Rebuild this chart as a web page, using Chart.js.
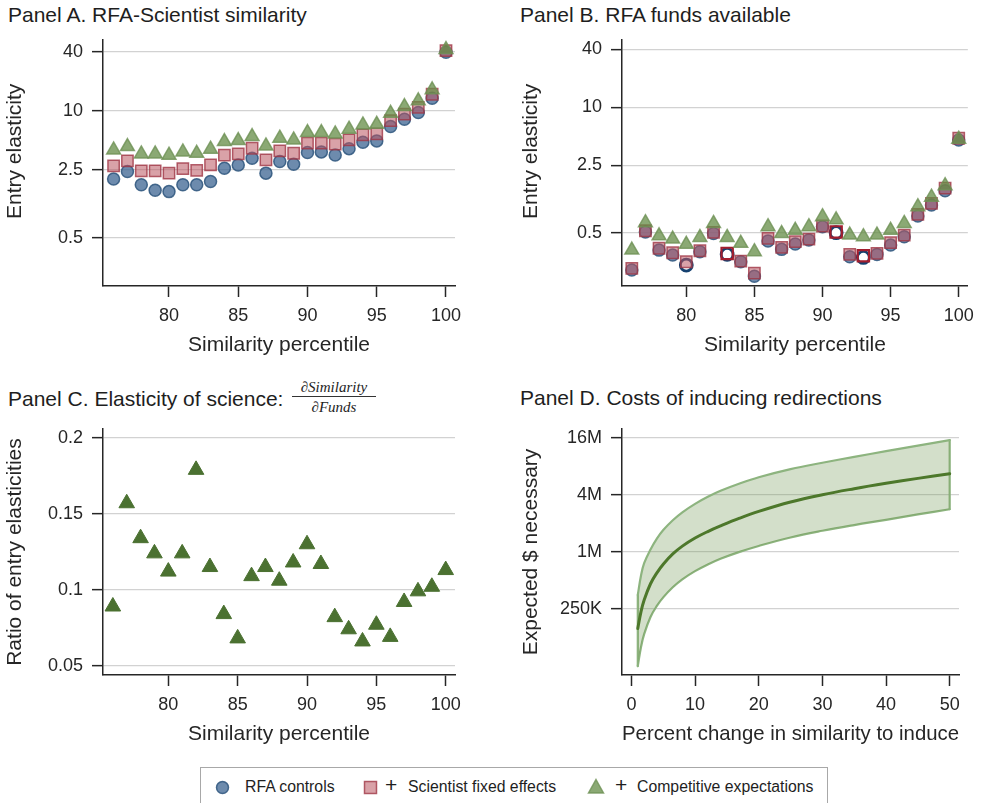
<!DOCTYPE html>
<html>
<head>
<meta charset="utf-8">
<script src="https://cdn.jsdelivr.net/npm/chart.js@4.4.1/dist/chart.umd.min.js"></script>
<style>
  body { margin: 0; width: 982px; height: 803px; overflow: hidden; position: relative; background: #fff;
         font-family: 'Liberation Sans', Arial, sans-serif; color: #1e1e1e; }
  canvas, .title, .leg, .frac { position: absolute; }
  .title { font-size: 21px; line-height: 21px; white-space: nowrap; }
  .frac { font-family: 'Liberation Serif', 'Times New Roman', serif; font-style: italic; font-size: 15px;
          text-align: center; width: 84px; }
  .frac div { line-height: 14px; }
  #legend { position: absolute; left: 200px; top: 767px; width: 626px; height: 44px; border: 1px solid #a8a8a8; }
  .leg { font-size: 15.8px; line-height: 18px; top: 778px; white-space: nowrap; }
  .plus { font-size: 21px; font-weight: 300; top: 776px; }
</style>
</head>
<body>
<div class="title" style="left:8px;top:4px">Panel A. RFA-Scientist similarity</div>
<div class="title" style="left:520px;top:4px">Panel B. RFA funds available</div>
<div class="title" style="left:8px;top:388px">Panel C. Elasticity of science:</div>
<div class="frac" style="left:292px;top:380px">
  <div style="border-bottom:1px solid #333;padding-bottom:2px">∂Similarity</div>
  <div style="padding-top:3px">∂Funds</div>
</div>
<div class="title" style="left:520px;top:387px">Panel D. Costs of inducing redirections</div>

<canvas id="panelA" width="470" height="360" style="left:0;top:0"></canvas>
<canvas id="panelB" width="466" height="360" style="left:516px;top:0"></canvas>
<canvas id="panelC" width="470" height="370" style="left:0;top:380px"></canvas>
<canvas id="panelD" width="466" height="370" style="left:516px;top:380px"></canvas>

<div id="legend"></div>
<svg class="leg" style="left:215px;top:780px" width="15" height="15"><circle cx="7.5" cy="7.5" r="6" fill="rgba(60,100,145,0.75)" stroke="rgba(45,85,125,0.85)" stroke-width="1.5"/></svg>
<div class="leg" style="left:245px">RFA controls</div>
<svg class="leg" style="left:363px;top:780px" width="15" height="15"><rect x="1.5" y="1.5" width="12" height="12" fill="rgba(185,85,97,0.55)" stroke="rgba(160,55,70,0.8)" stroke-width="1.5"/></svg>
<div class="leg plus" style="left:385px">+</div>
<div class="leg" style="left:408px">Scientist fixed effects</div>
<svg class="leg" style="left:587px;top:778px" width="18" height="17"><polygon points="9,1.5 16.5,15 1.5,15" fill="rgba(100,140,70,0.75)" stroke="rgba(110,145,85,0.8)" stroke-width="1.5"/></svg>
<div class="leg plus" style="left:615px">+</div>
<div class="leg" style="left:637px">Competitive expectations</div>

<script>
// Similarity percentile (x of panels A, B, C)
const pct = [76, 77, 78, 79, 80, 81, 82, 83, 84, 85, 86, 87, 88, 89, 90, 91, 92, 93, 94, 95, 96, 97, 98, 99, 100];

// Panel A: entry elasticity by RFA-scientist similarity
const circA = [2.0, 2.39, 1.75, 1.54, 1.49, 1.75, 1.75, 1.89, 2.58, 2.79, 3.27, 2.30, 3.02, 2.84, 3.73, 3.79, 3.53, 4.09, 4.75, 4.91, 6.87, 8.16, 9.55, 13.4, 39.5];
const sqA   = [2.73, 3.07, 2.43, 2.43, 2.30, 2.56, 2.45, 2.79, 3.51, 3.61, 4.13, 3.14, 3.88, 3.67, 4.65, 4.65, 4.54, 5.02, 5.65, 5.78, 7.91, 9.19, 10.8, 14.7, 41];
const triA  = [3.97, 4.30, 3.61, 3.61, 3.51, 3.79, 3.67, 4.04, 4.83, 4.94, 5.43, 4.36, 5.23, 5.02, 5.97, 5.97, 5.78, 6.46, 7.15, 7.25, 9.4, 11.0, 12.6, 16.3, 42];

// Panel B: entry elasticity w.r.t. funds available
const circB = [0.205, 0.51, 0.33, 0.293, 0.231, 0.318, 0.49, 0.298, 0.25, 0.177, 0.41, 0.336, 0.382, 0.42, 0.577, 0.50, 0.282, 0.277, 0.298, 0.372, 0.454, 0.745, 0.97, 1.36, 4.59];
const sqB   = [0.213, 0.524, 0.345, 0.31, 0.25, 0.325, 0.505, 0.305, 0.254, 0.19, 0.437, 0.352, 0.404, 0.43, 0.587, 0.51, 0.298, 0.288, 0.305, 0.394, 0.473, 0.776, 1.01, 1.45, 4.78];
const triB  = [0.33, 0.635, 0.465, 0.43, 0.379, 0.447, 0.625, 0.447, 0.388, 0.318, 0.577, 0.49, 0.53, 0.577, 0.733, 0.68, 0.473, 0.455, 0.473, 0.53, 0.625, 0.93, 1.17, 1.54, 4.67];
const hollowCircB = [80, 83, 91, 93];   // drawn as open markers
const hollowSqB = [83, 91, 93];

// Panel C: ratio of entry elasticities
const triC = [0.089, 0.157, 0.134, 0.124, 0.112, 0.124, 0.179, 0.115, 0.084, 0.068, 0.109, 0.115, 0.106, 0.118, 0.130, 0.117, 0.082, 0.074, 0.066, 0.077, 0.069, 0.092, 0.099, 0.102, 0.113];

// Panel D: expected $ necessary (millions) by percent change in similarity
const changePct = [1, 1.5, 2, 3, 4, 5, 6.5, 8, 10, 12, 14, 17, 20, 25, 30, 35, 40, 45, 50];
const costMid   = [0.155, 0.232, 0.31, 0.46, 0.60, 0.74, 0.95, 1.15, 1.40, 1.64, 1.88, 2.27, 2.68, 3.37, 4.02, 4.65, 5.3, 5.98, 6.7];
const costHigh  = [0.35, 0.56, 0.76, 1.06, 1.38, 1.70, 2.16, 2.62, 3.22, 3.82, 4.42, 5.28, 6.15, 7.5, 8.75, 10.1, 11.6, 13.3, 15.2];
const costLow   = [0.062, 0.098, 0.135, 0.205, 0.268, 0.33, 0.422, 0.512, 0.625, 0.735, 0.845, 1.0, 1.155, 1.42, 1.67, 1.92, 2.18, 2.49, 2.82];

// Tick positions and labels
const pctTicks = [80, 85, 90, 95, 100];
const elastTicks = [0.5, 2.5, 10, 40];
const elastLabels = ['0.5', '2.5', '10', '40'];
const ratioTicks = [0.05, 0.1, 0.15, 0.2];
const ratioLabels = ['0.05', '0.1', '0.15', '0.2'];
const changeTicks = [0, 10, 20, 30, 40, 50];
const costTicks = [250000, 1000000, 4000000, 16000000];
const costLabels = ['250K', '1M', '4M', '16M'];

const INK = '#262626';
const GRID = '#d2d2d2';
const CIRC_FILL = 'rgba(60,100,145,0.75)', CIRC_LINE = 'rgba(45,85,125,0.85)';
const SQ_FILL = 'rgba(185,85,97,0.55)', SQ_LINE = 'rgba(160,55,70,0.8)';
const TRI_FILL = 'rgba(100,140,70,0.75)', TRI_LINE = 'rgba(110,145,85,0.8)';

Chart.defaults.font.family = "'Liberation Sans', Arial, sans-serif";

const xy = (xs, ys, k = 1) => xs.map((x, i) => ({ x, y: ys[i] * k }));

function xAxis(min, max, ticks, title) {
  return {
    type: 'linear', min, max,
    afterBuildTicks: s => { s.ticks = ticks.map(v => ({ value: v })); },
    afterFit: s => { s.height = 74; },
    ticks: { font: { size: 18 }, color: INK, padding: 8, maxRotation: 0, autoSkip: false },
    grid: { drawOnChartArea: false, tickLength: 11, tickColor: INK, tickWidth: 1.5 },
    border: { color: INK, width: 1.5 },
    title: { display: true, text: title, font: { size: 21 }, color: INK, padding: { top: 0, bottom: 2.4 } },
  };
}

function yAxis(type, min, max, ticks, labels, title, width) {
  return {
    type, min, max,
    afterBuildTicks: s => { s.ticks = ticks.map(v => ({ value: v })); },
    afterFit: s => { s.width = width; },
    ticks: { font: { size: 18 }, color: INK, padding: 9, autoSkip: false, callback: (v, i) => labels[i] },
    grid: { color: GRID, lineWidth: 1.3, tickLength: 11, tickColor: INK, tickWidth: 1.5 },
    border: { color: INK, width: 1.5 },
    title: { display: true, text: title, font: { size: 21 }, color: INK, padding: { top: 2.4, bottom: 0 } },
  };
}

function panel(id, datasets, scales, padding) {
  return new Chart(document.getElementById(id), {
    type: 'scatter',
    data: { datasets },
    options: {
      responsive: false, maintainAspectRatio: false, animation: false, events: [],
      layout: { padding },
      plugins: { legend: { display: false }, tooltip: { enabled: false } },
      scales,
    },
  });
}

const circles = (ys, hollow = []) => ({
  data: xy(pct, ys), pointStyle: 'circle', pointRadius: 6, order: 3,
  pointBackgroundColor: c => hollow.includes(pct[c.dataIndex]) ? '#ffffff' : CIRC_FILL,
  pointBorderColor: c => hollow.includes(pct[c.dataIndex]) ? '#15416f' : CIRC_LINE,
  pointBorderWidth: c => hollow.includes(pct[c.dataIndex]) ? 2.8 : 1.5,
});
const squares = (ys, hollow = []) => ({
  data: xy(pct, ys), pointStyle: 'rect', pointRadius: 8, order: 2,
  pointBackgroundColor: c => hollow.includes(pct[c.dataIndex]) ? 'rgba(0,0,0,0)' : SQ_FILL,
  pointBorderColor: c => hollow.includes(pct[c.dataIndex]) ? '#a21d2e' : SQ_LINE,
  pointBorderWidth: c => hollow.includes(pct[c.dataIndex]) ? 2.2 : 1.5,
});
const triangles = ys => ({
  data: xy(pct, ys), pointStyle: 'triangle', pointRadius: 8, order: 1,
  pointBackgroundColor: TRI_FILL, pointBorderColor: TRI_LINE, pointBorderWidth: 1.5,
});

// the y titles of the top panels sit a little above the plot centre
const ELAST_TITLE = '\u0020\u0020\u0020\u0020Entry elasticity';

// Panel A
panel('panelA', [circles(circA), squares(sqA), triangles(triA)], {
  x: xAxis(75.235, 100.65, pctTicks, 'Similarity percentile'),
  y: yAxis('logarithmic', 0.162, 52.6, elastTicks, elastLabels, ELAST_TITLE, 103),
}, { top: 40, right: 15, left: 0, bottom: 0 });

// Panel B
panel('panelB', [circles(circB, hollowCircB), squares(sqB, hollowSqB), triangles(triB)], {
  x: xAxis(75.28, 100.67, pctTicks, 'Similarity percentile'),
  y: yAxis('logarithmic', 0.14, 49.96, elastTicks, elastLabels, ELAST_TITLE, 106),
}, { top: 40, right: 9, left: 0, bottom: 0 });

// Panel C
panel('panelC', [{
  data: xy(pct, triC), pointStyle: 'triangle', pointRadius: 9,
  pointBackgroundColor: '#4b7131', pointBorderColor: '#4b7131', pointBorderWidth: 1,
}], {
  x: xAxis(75.29, 100.67, pctTicks, 'Similarity percentile'),
  y: yAxis('linear', 0.0439, 0.2059, ratioTicks, ratioLabels, 'Ratio of entry elasticities', 103),
}, { top: 49, right: 15, left: 0, bottom: 1 });

// Panel D
const BAND_LINE = '#8db47f', BAND_FILL = 'rgba(110,150,80,0.3)';
const curve = { showLine: true, pointRadius: 0, tension: 0.4, borderCapStyle: 'round' };
const last = changePct.length - 1;
panel('panelD', [
  { ...curve, data: xy(changePct, costHigh, 1e6), borderColor: BAND_LINE, borderWidth: 2.2, fill: '+1', backgroundColor: BAND_FILL, order: 2 },
  { ...curve, data: xy(changePct, costLow, 1e6), borderColor: BAND_LINE, borderWidth: 2.2, order: 2 },
  { ...curve, data: xy(changePct, costMid, 1e6), borderColor: '#4d782b', borderWidth: 3, order: 1 },
  { ...curve, data: [{ x: changePct[0], y: costHigh[0] * 1e6 }, { x: changePct[0], y: costLow[0] * 1e6 }], borderColor: BAND_LINE, borderWidth: 2.2, order: 2 },
  { ...curve, data: [{ x: changePct[last], y: costHigh[last] * 1e6 }, { x: changePct[last], y: costLow[last] * 1e6 }], borderColor: BAND_LINE, borderWidth: 2.2, order: 2 },
], {
  x: xAxis(-1.48, 51.46, changeTicks, 'Percent change in similarity to induce'),
  y: yAxis('logarithmic', 49900, 19.9e6, costTicks, costLabels, 'Expected $ necessary', 106),
}, { top: 49, right: 23, left: 0, bottom: 1 });
</script>
</body>
</html>
